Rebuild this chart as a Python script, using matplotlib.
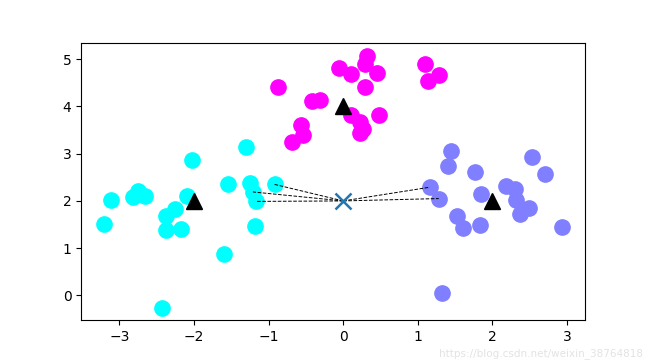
import numpy as np
import matplotlib
matplotlib.use("Agg")
import matplotlib.pyplot as plt

# cluster points
cyan_x = [-3.11, -3.21, -2.82, -2.75, -2.66, -2.02, -2.09, -2.37, -2.25, -2.37,
          -2.18, -2.43, -1.60, -1.54, -1.30, -1.25, -1.21, -1.17, -1.18, -0.92]
cyan_y = [2.03, 1.51, 2.08, 2.22, 2.11, 2.87, 2.11, 1.68, 1.82, 1.38,
          1.40, -0.26, 0.87, 2.35, 3.14, 2.38, 2.19, 1.99, 1.46, 2.35]

magenta_x = [-0.87, -0.42, -0.31, -0.56, -0.54, -0.69, -0.06, 0.11, 0.32, 0.29,
             0.45, 0.29, 0.11, 0.22, 0.27, 0.22, 0.48, 1.09, 1.28, 1.13]
magenta_y = [4.41, 4.12, 4.13, 3.60, 3.40, 3.25, 4.82, 4.68, 5.07, 4.91,
             4.70, 4.41, 3.81, 3.67, 3.53, 3.43, 3.83, 4.89, 4.66, 4.53]

blue_x = [1.44, 1.41, 1.77, 1.16, 1.28, 1.85, 1.53, 1.60, 1.83, 2.53,
          2.70, 2.18, 2.30, 2.32, 2.37, 2.49, 2.93, 1.33]
blue_y = [3.05, 2.74, 2.61, 2.29, 2.05, 2.14, 1.68, 1.43, 1.50, 2.93,
          2.58, 2.31, 2.26, 2.01, 1.73, 1.86, 1.45, 0.05]

centers_x = [-2, 0, 2]
centers_y = [2, 4, 2]

test_x, test_y = 0, 2
# neighbours joined to the test point
nb_x = [-0.92, -1.21, -1.17, 1.16, 1.28]
nb_y = [2.35, 2.19, 1.99, 2.29, 2.05]

fig = plt.figure(figsize=(6.5, 3.6), dpi=100)
ax = fig.add_subplot(111)

ax.plot(cyan_x, cyan_y, 'o', color='#00ffff', markersize=11, linestyle='none')
ax.plot(magenta_x, magenta_y, 'o', color='#ff00ff', markersize=11, linestyle='none')
ax.plot(blue_x, blue_y, 'o', color='#7f7fff', markersize=11, linestyle='none')

for nx, ny in zip(nb_x, nb_y):
    ax.plot([test_x, nx], [test_y, ny], '--', color='k', linewidth=0.7)

ax.plot(centers_x, centers_y, '^', color='k', markersize=12, linestyle='none')
ax.plot([test_x], [test_y], 'x', color='C0', markersize=12, markeredgewidth=1.8)

ax.set_xlim(-3.51, 3.24)
ax.set_ylim(-0.53, 5.34)
ax.set_xticks([-3, -2, -1, 0, 1, 2, 3])
ax.set_yticks([0, 1, 2, 3, 4, 5])

# watermark, kept just under the tick labels
fig.text(0.99, 0.004, 'https://blog.csdn.net/weixin_38764818', ha='right',
         va='bottom', color='#e3e3e3', fontsize=7.5)

fig.savefig('out.png', dpi=100)
